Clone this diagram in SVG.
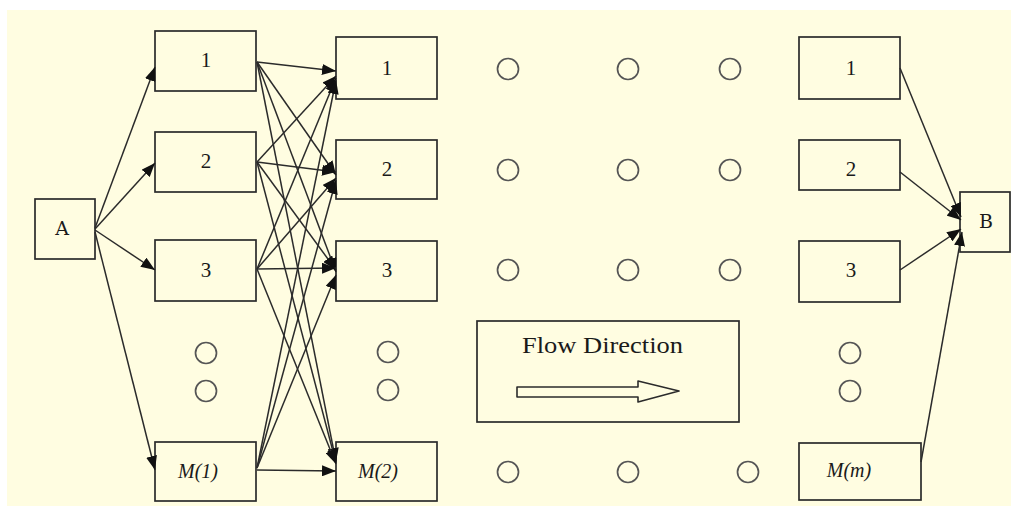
<svg xmlns="http://www.w3.org/2000/svg" width="1011" height="506" viewBox="0 0 1011 506">
<style>
.bx{fill:#FFFDE1;stroke:#2b2b2b;stroke-width:1.7}
.dot{fill:none;stroke:#555;stroke-width:1.7}
.t{font-family:"Liberation Serif",serif;font-size:21px;fill:#1a1a1a;text-anchor:middle}
.ti{font-family:"Liberation Serif",serif;font-size:20px;font-style:italic;fill:#1a1a1a;text-anchor:middle}
.tm{font-family:"DejaVu Serif",serif;font-size:19px;fill:#1a1a1a;text-anchor:middle}
.c line{stroke:#2b2b2b;stroke-width:1.5;marker-end:url(#ah)}
</style>
<defs>
<marker id="ah" markerUnits="userSpaceOnUse" markerWidth="15" markerHeight="11" refX="14" refY="5.5" orient="auto">
<path d="M0,0 L14,5.5 L0,11 Z" fill="#111"/>
</marker>
</defs>
<rect x="0" y="0" width="1011" height="506" fill="#fff"/>
<rect x="7" y="10" width="1004" height="496" fill="#FFFDE1"/>

<g id="A"><rect class="bx" x="35" y="199" width="60" height="60"/><text class="tm" x="62" y="235">A</text></g>

<g id="c1n1"><rect class="bx" x="155" y="31" width="101" height="60"/><text class="t" x="206" y="67">1</text></g>
<g id="c1n2"><rect class="bx" x="155" y="132" width="101" height="60"/><text class="t" x="206" y="168">2</text></g>
<g id="c1n3"><rect class="bx" x="155" y="240" width="101" height="61"/><text class="t" x="206" y="277">3</text></g>
<g id="c1nM"><rect class="bx" x="155" y="442" width="101" height="59"/><text class="ti" x="198" y="478">M(1)</text></g>

<g id="c2n1"><rect class="bx" x="336" y="37" width="101" height="62"/><text class="t" x="387" y="75">1</text></g>
<g id="c2n2"><rect class="bx" x="336" y="140" width="101" height="59"/><text class="t" x="387" y="176">2</text></g>
<g id="c2n3"><rect class="bx" x="336" y="241" width="101" height="60"/><text class="t" x="387" y="277">3</text></g>
<g id="c2nM"><rect class="bx" x="336" y="442" width="101" height="59"/><text class="ti" x="378" y="478">M(2)</text></g>

<g id="cmn1"><rect class="bx" x="799" y="37" width="101" height="62"/><text class="t" x="851" y="75">1</text></g>
<g id="cmn2"><rect class="bx" x="799" y="140" width="101" height="50"/><text class="t" x="851" y="176">2</text></g>
<g id="cmn3"><rect class="bx" x="799" y="241" width="101" height="61"/><text class="t" x="851" y="277">3</text></g>
<g id="cmnM"><rect class="bx" x="799" y="443" width="122" height="57"/><text class="ti" x="849" y="477">M(m)</text></g>

<g id="B"><rect class="bx" x="960" y="192" width="50" height="60"/><text class="tm" x="986" y="228">B</text></g>

<g id="flow">
<rect class="bx" x="477" y="321" width="262" height="101"/>
<text x="522" y="353" font-family="'Liberation Serif',serif" font-size="23" fill="#1a1a1a" textLength="161" lengthAdjust="spacingAndGlyphs">Flow Direction</text>
<polygon points="517,387 638,387 638,381 679,391 638,402 638,397 517,397" fill="#FFFDE1" stroke="#2b2b2b" stroke-width="1.6" stroke-linejoin="round"/>
</g>

<g id="dots">
<circle class="dot" cx="508" cy="69" r="10.5"/><circle class="dot" cx="628" cy="69" r="10.5"/><circle class="dot" cx="730" cy="69" r="10.5"/>
<circle class="dot" cx="508" cy="170" r="10.5"/><circle class="dot" cx="628" cy="170" r="10.5"/><circle class="dot" cx="730" cy="170" r="10.5"/>
<circle class="dot" cx="508" cy="270" r="10.5"/><circle class="dot" cx="628" cy="270" r="10.5"/><circle class="dot" cx="730" cy="270" r="10.5"/>
<circle class="dot" cx="508" cy="472" r="10.5"/><circle class="dot" cx="628" cy="472" r="10.5"/><circle class="dot" cx="748" cy="472" r="10.5"/>
<circle class="dot" cx="206" cy="353" r="10.5"/><circle class="dot" cx="206" cy="391" r="10.5"/>
<circle class="dot" cx="388" cy="352" r="10.5"/><circle class="dot" cx="388" cy="390" r="10.5"/>
<circle class="dot" cx="850" cy="353" r="10.5"/><circle class="dot" cx="850" cy="391" r="10.5"/>
</g>

<g id="connectors" class="c">
<line x1="95" y1="228" x2="155" y2="67"/>
<line x1="95" y1="229" x2="155" y2="163"/>
<line x1="95" y1="230" x2="155" y2="270"/>
<line x1="95" y1="232" x2="155" y2="470"/>

<line x1="257" y1="62" x2="336" y2="71"/>
<line x1="257" y1="62" x2="336" y2="175"/>
<line x1="257" y1="62" x2="336" y2="272"/>
<line x1="257" y1="62" x2="336" y2="462"/>

<line x1="257" y1="162" x2="336" y2="76"/>
<line x1="257" y1="162" x2="336" y2="172"/>
<line x1="257" y1="162" x2="336" y2="270"/>
<line x1="257" y1="162" x2="336" y2="463"/>

<line x1="257" y1="269" x2="336" y2="78"/>
<line x1="257" y1="269" x2="336" y2="178"/>
<line x1="257" y1="269" x2="336" y2="268"/>
<line x1="257" y1="269" x2="336" y2="464"/>

<line x1="257" y1="468" x2="336" y2="80"/>
<line x1="257" y1="468" x2="336" y2="180"/>
<line x1="257" y1="468" x2="336" y2="275"/>
<line x1="257" y1="470" x2="336" y2="471"/>

<line x1="900" y1="68" x2="961" y2="217"/>
<line x1="900" y1="172" x2="961" y2="220"/>
<line x1="900" y1="270" x2="961" y2="229"/>
<line x1="921" y1="462" x2="962" y2="232"/>
</g>
</svg>
